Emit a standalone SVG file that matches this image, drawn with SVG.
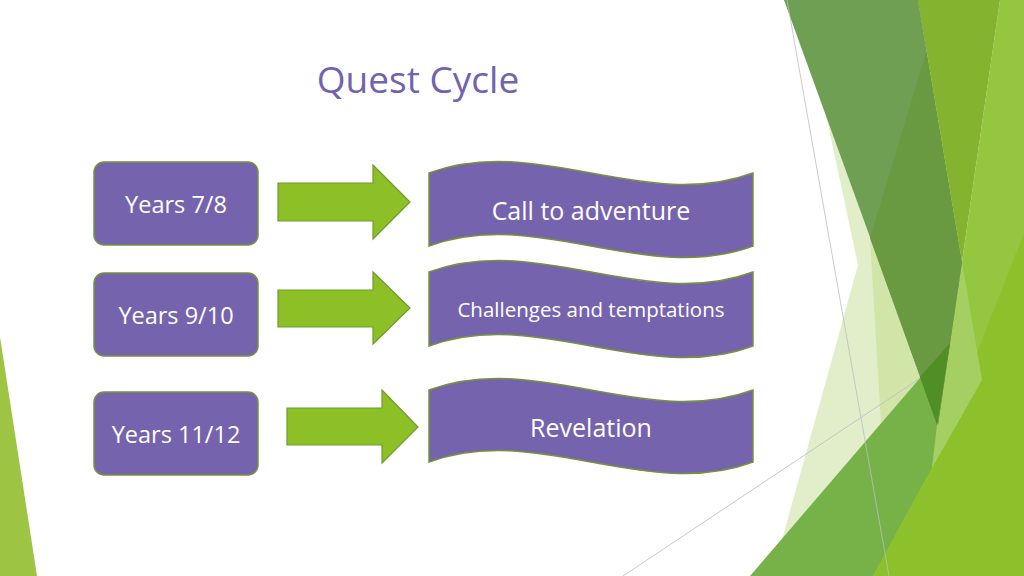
<svg xmlns="http://www.w3.org/2000/svg" width="1024" height="576" viewBox="0 0 1024 576">
<style>
.box{fill:#7563AE;stroke:#76923C;stroke-width:1.5}
.wave{fill:#7563AE;stroke:#76923C;stroke-width:1.5}
.arrow{fill:#8CC026;stroke:#6E9C2C;stroke-width:1.2}
.lbl{font-family:"Open Sans","Noto Sans","DejaVu Sans",sans-serif;fill:#FFFFFF;text-anchor:middle}
.title{font-family:"Open Sans","Noto Sans","DejaVu Sans",sans-serif;fill:#7163B0;text-anchor:middle;font-size:37px}
.gl{stroke:#BDBDBD;stroke-width:0.8;fill:none}
</style>
<rect width="1024" height="576" fill="#FFFFFF"/>
<g id="background">
  <polygon points="0,337 37,576 0,576" fill="#9DC543"/>
  <polygon points="826,115 858,265 772,576 880,576 940,430 920,377" fill="#E2EEC9"/>
  <polygon points="870,238 920,377 881,425" fill="#D2E5A9"/>
  <line class="gl" x1="623" y1="576" x2="1024" y2="309"/>
  <polygon points="750,576 950,343 1024,257 1024,576" fill="#77B249"/>
  <polygon points="1000,0 1024,0 1024,576 873,576 932,468 962,262" fill="#95C63F"/>
  <polygon points="873,576 1024,576 1024,233 980,345 935,462" fill="#8DC12B"/>
  <polygon points="962,262 982,380 932,468 937,425" fill="#A6CF63"/>
  <polygon points="784,0 918,0 962,262 938,425" fill="#6F9F52"/>
  <polygon points="942,0 870,238 920,377 938,425 962,262 918,0" fill="#699A42"/>
  <polygon points="918,0 1000,0 962,262" fill="#84B32F"/>
  <polygon points="920,377 950,343 937,425" fill="#4F8F26"/>
  <line class="gl" x1="787" y1="0" x2="889" y2="576"/>
</g>
<text class="title" x="418" y="93">Quest Cycle</text>
<g id="box1"><rect class="box" x="94" y="162" width="164" height="83" rx="10"/><text class="lbl" x="176" y="213" font-size="23.5">Years 7/8</text></g>
<g id="box2"><rect class="box" x="94" y="273" width="164" height="83" rx="10"/><text class="lbl" x="176" y="324" font-size="23.5">Years 9/10</text></g>
<g id="box3"><rect class="box" x="94" y="392" width="164" height="83" rx="10"/><text class="lbl" x="176" y="443" font-size="23.5">Years 11/12</text></g>
<g id="wave1"><path class="wave" d="M429,173 C537,133 645,213 753,173 L753,246 C645,286 537,206 429,246 Z"/><text class="lbl" x="591" y="220" font-size="25">Call to adventure</text></g>
<g id="wave2"><path class="wave" d="M429,272 C537,232 645,312 753,272 L753,346 C645,386 537,306 429,346 Z"/><text class="lbl" x="591" y="317" font-size="20.5">Challenges and temptations</text></g>
<g id="wave3"><path class="wave" d="M429,390 C537,350 645,430 753,390 L753,462 C645,502 537,422 429,462 Z"/><text class="lbl" x="591" y="437" font-size="25">Revelation</text></g>
<g id="connectors">
  <polygon class="arrow" points="278,183 373,183 373,165 410,202 373,239 373,221 278,221"/>
  <polygon class="arrow" points="278,290 373,290 373,272 410,308 373,344 373,327 278,327"/>
  <polygon class="arrow" points="287,408 382,408 382,390 418,427 382,463 382,445 287,445"/>
</g>
</svg>
